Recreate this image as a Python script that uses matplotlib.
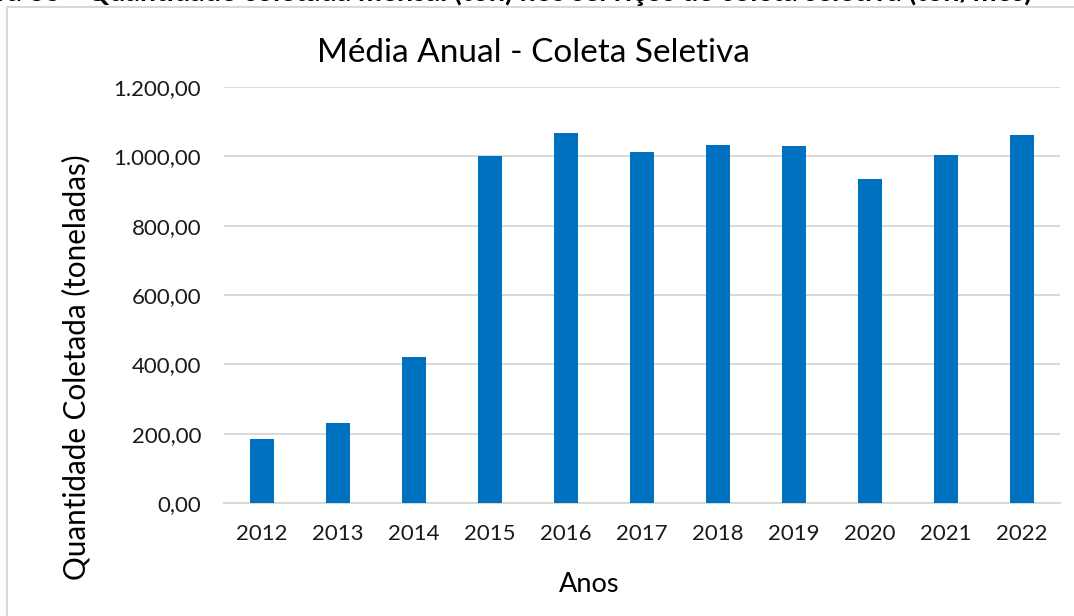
import matplotlib.pyplot as plt
from matplotlib.patches import Rectangle

# annual average of selective collection (tonnes)
anos = ["2012", "2013", "2014", "2015", "2016", "2017", "2018", "2019", "2020", "2021", "2022"]
quantidade = [185, 232, 420, 1001, 1066, 1013, 1034, 1031, 936, 1003, 1061]
y_ticks = [0, 200, 400, 600, 800, 1000, 1200]

BLUE = "#0070c0"
GRID = "#d9d9d9"


def fmt_br(v):
    s = f"{v:,.2f}"
    return s.replace(",", "X").replace(".", ",").replace("X", ".")


plt.rcParams["font.family"] = ["Lato", "DejaVu Sans"]

fig = plt.figure(figsize=(10.74, 6.16), dpi=100)

# chart area border (runs off the right and bottom edges)
fig.patches.append(
    Rectangle((7 / 1074, -0.05), 1.1, 1 - 7 / 616 + 0.05,
              transform=fig.transFigure, fill=False, edgecolor=GRID, linewidth=1.5)
)

# caption of the page, cut off at the top edge
fig.text(-58 / 1074, 1 - 1 / 616,
         "Figura 35 - Quantidade coletada mensal (ton) nos serviços de coleta seletiva (ton/mês)",
         fontsize=20.5, fontweight="bold", ha="left", va="baseline", color="black")

ax = fig.add_axes([224 / 1074, 113 / 616, 836 / 1074, 416 / 616])
ax.bar(range(len(anos)), quantidade, width=0.315, color=BLUE, zorder=3)

ax.set_xlim(-0.5, len(anos) - 0.5)
ax.set_ylim(0, 1200)
ax.set_yticks(y_ticks)
ax.set_yticklabels([fmt_br(v) for v in y_ticks])
ax.set_xticks(range(len(anos)))
ax.set_xticklabels(anos)
ax.tick_params(axis="both", length=0, labelsize=16, colors="#1a1a1a")
ax.tick_params(axis="y", pad=16.5)
ax.tick_params(axis="x", pad=15)

ax.grid(axis="y", color=GRID, linewidth=1.5, zorder=0)
for side in ["top", "right", "left"]:
    ax.spines[side].set_visible(False)
ax.spines["bottom"].set_color(GRID)
ax.spines["bottom"].set_linewidth(1.5)

fig.text(533 / 1074, 1 - 62 / 616, "Média Anual - Coleta Seletiva",
         fontsize=24, ha="center", va="baseline")
fig.text(76 / 1074, 1 - 367 / 616, "Quantidade Coletada (toneladas)",
         fontsize=21.3, rotation=90, ha="center", va="center")
fig.text(589 / 1074, 1 - 592 / 616, "Anos", fontsize=19.5, ha="center", va="baseline")

fig.savefig("out.png", dpi=100)
